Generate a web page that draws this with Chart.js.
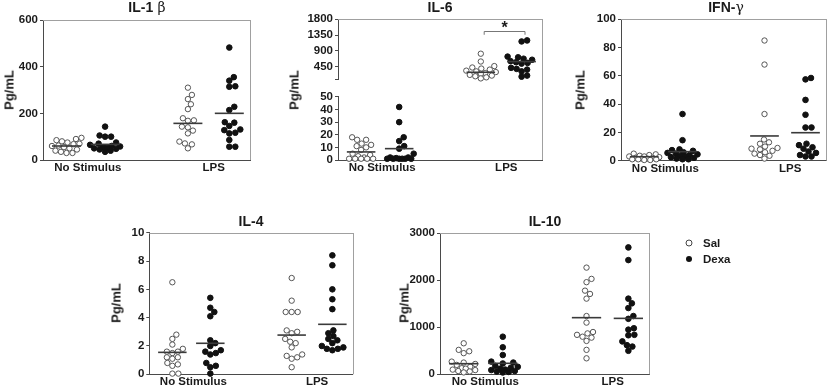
<!DOCTYPE html>
<html><head><meta charset="utf-8">
<script src="https://cdn.jsdelivr.net/npm/chart.js@4"></script>
<style>
html,body{margin:0;padding:0;background:#fff;}
body{width:827px;height:387px;position:relative;overflow:hidden;font-family:"Liberation Sans",Arial,sans-serif;color:#1a1a1a;}
#charts canvas{position:absolute;}
.t{position:absolute;transform:translate(-50%,-50%);font-weight:bold;font-size:14px;white-space:nowrap;}
.t .g{font-weight:normal;font-family:"DejaVu Serif","Liberation Serif",serif;font-size:14px;}
.yl{position:absolute;transform:translate(-50%,-50%) rotate(-90deg);font-weight:bold;font-size:13px;white-space:nowrap;}
.lt{position:absolute;transform:translateY(-50%);font-weight:bold;font-size:11.5px;white-space:nowrap;}
.mk{position:absolute;width:5px;height:5px;border-radius:50%;transform:translate(-50%,-50%);}
</style></head><body>
<div id="charts"></div>
<div class="t" style="left:147px;top:7px">IL-1<span class="g"> β</span></div>
<div class="t" style="left:440px;top:7px">IL-6</div>
<div class="t" style="left:726px;top:7px">IFN-<span class="g">γ</span></div>
<div class="t" style="left:251px;top:221px">IL-4</div>
<div class="t" style="left:545px;top:221px">IL-10</div>
<div class="yl" style="left:9px;top:90px">Pg/mL</div>
<div class="yl" style="left:294px;top:90px">Pg/mL</div>
<div class="yl" style="left:580px;top:90px">Pg/mL</div>
<div class="yl" style="left:116px;top:303px">Pg/mL</div>
<div class="yl" style="left:404px;top:303px">Pg/mL</div>
<div class="mk" style="left:689px;top:243px;border:1px solid #444;background:#fff"></div>
<div class="lt" id="lg0" style="left:703px;top:243px"></div>
<div class="mk" style="left:689px;top:259px;background:#111;width:6px;height:6px"></div>
<div class="lt" id="lg1" style="left:703px;top:259px"></div>
<script>
// ---------- data ----------
const categories = ['No Stimulus', 'LPS'];
const seriesNames = ['Sal', 'Dexa'];

// IL-1β
const il1bTicks = [0, 200, 400, 600];
const il1bNsSal = [95, 90, 85, 80, 75, 70, 68, 62, 60, 55, 50, 45, 40, 35, 30, 30];
const il1bNsDexa = [143, 105, 100, 100, 75, 70, 65, 60, 58, 55, 52, 50, 48, 45, 40, 35];
const il1bLpsSal = [310, 279, 261, 239, 218, 179, 170, 168, 143, 140, 126, 114, 79, 71, 67, 50];
const il1bLpsDexa = [482, 355, 340, 316, 314, 228, 214, 162, 160, 146, 131, 128, 117, 114, 86, 57, 57];
const il1bMeans = [60, 67, 157, 200];

// IL-6 (broken axis)
const il6LowTicks = [0, 10, 20, 30, 40, 50];
const il6HighTicks = [100, 450, 900, 1350, 1800];
const il6NsSal = [18, 16, 16, 13, 12, 11, 10, 8, 5, 4, 3, 2, 1, 1, 1, 1, 1];
const il6NsDexa = [42, 30, 18, 15, 11, 9, 5, 2, 2, 1.5, 1, 1, 1, 1, 1, 1];
const il6LpsSal = [822, 600, 470, 430, 400, 370, 340, 320, 300, 270, 250, 220, 200, 180, 150, 120];
const il6LpsDexa = [1200, 1170, 740, 720, 680, 650, 610, 580, 560, 540, 420, 390, 370, 320, 200, 170];
const il6Means = [6.4, 9, 294, 598];

// IFN-γ
const ifngTicks = [0, 20, 40, 60, 80, 100];
const ifngNsSal = [5, 4.5, 4, 3.5, 3, 3, 2.5, 2, 2, 1.5, 1.5, 1, 1, 1, 0.5, 0.5];
const ifngNsDexa = [33, 14.5, 8, 7.5, 7, 6, 5.5, 5, 4.5, 4, 3.5, 3, 2.5, 2, 1.5, 1, 1];
const ifngLpsSal = [85, 68, 33, 15, 13, 12, 10, 9, 8.5, 8, 7, 6, 5, 4, 3.5, 1.5];
const ifngLpsDexa = [58.5, 57.5, 43, 32.5, 23.5, 23.5, 12, 11, 9.5, 8.5, 6.5, 5.5, 4, 3, 3];
const ifngMeans = [2.8, 6.4, 17.5, 19.8];

// IL-4
const il4Ticks = [0, 2, 4, 6, 8, 10];
const il4NsSal = [6.5, 2.8, 2.5, 2.1, 1.8, 1.6, 1.6, 1.5, 1.2, 1.2, 1.1, 0.8, 0.7, 0.6, 0.05, 0.05];
const il4NsDexa = [5.4, 4.7, 4.4, 4.1, 2.4, 2.2, 2.0, 1.7, 1.6, 1.5, 1.4, 0.8, 0.6, 0.5, 0.05];
const il4LpsSal = [6.8, 5.2, 4.4, 4.4, 4.4, 3.1, 3.0, 2.9, 2.5, 2.3, 2.2, 1.9, 1.4, 1.3, 1.2, 1.1, 0.5];
const il4LpsDexa = [8.4, 7.7, 6.0, 5.3, 4.6, 3.1, 2.9, 2.7, 2.5, 2.4, 2.2, 2.0, 1.9, 1.8, 1.8, 1.7];
const il4Means = [1.55, 2.19, 2.77, 3.53];

// IL-10
const il10Ticks = [0, 1000, 2000, 3000];
const il10NsSal = [660, 520, 490, 450, 270, 250, 220, 200, 160, 130, 120, 100, 90, 70, 60, 40];
const il10NsDexa = [800, 575, 410, 270, 250, 230, 180, 160, 140, 120, 100, 90, 70, 60, 50, 40];
const il10LpsSal = [2270, 2030, 1960, 1780, 1710, 1610, 1240, 1100, 900, 870, 840, 800, 780, 710, 520, 340];
const il10LpsDexa = [2700, 2430, 1610, 1510, 1410, 1240, 1180, 980, 950, 840, 830, 700, 620, 590, 500];
const il10Means = [226, 234, 1205, 1190];

// ---------- layout helpers ----------
document.getElementById('lg0').textContent = seriesNames[0];
document.getElementById('lg1').textContent = seriesNames[1];

const FONT = '"Liberation Sans", Arial, sans-serif';
const TXT = '#1a1a1a';
const AXIS = '#4a4a4a';
const X_MIN = 0, X_MAX = 6;
const groupX = [0.68, 1.8, 4.2, 5.4];   // NS-Sal, NS-Dexa, LPS-Sal, LPS-Dexa
const labelX = [1.3, 4.95];
const HALF = 0.42;

// beeswarm spreading (pixel space), limited width; overlaps allowed when crowded
function swarm(vals, pyu, pxu, d, maxW) {
  const idx = vals.map((_, i) => i).sort((a, b) => vals[a] - vals[b]);
  const placed = [], out = new Array(vals.length).fill(0);
  for (const i of idx) {
    const y = vals[i] * pyu;
    let best = 0, bestScore = -1, found = false;
    for (let k = 0; ; k++) {
      const s = Math.ceil(k / 2) * 0.5 * (k % 2 === 1 ? 1 : -1);
      if (Math.abs(s) > maxW) break;
      let minD = Infinity;
      for (const p of placed) {
        const dx = p.x - s, dy = p.y - y;
        minD = Math.min(minD, Math.sqrt(dx * dx + dy * dy));
      }
      if (minD >= d) { best = s; found = true; break; }
      if (minD > bestScore + 0.3) { bestScore = minD; best = s; }
    }
    placed.push({ x: best, y });
    out[i] = best / pxu;
  }
  return out;
}

const boxPlugin = {
  id: 'box',
  afterDraw(chart, args, opts) {
    const a = chart.chartArea, ctx = chart.ctx;
    ctx.save();
    ctx.strokeStyle = '#a0a0a0';
    ctx.lineWidth = 1;
    ctx.beginPath();
    const x = Math.round(a.right) + 0.5;
    if (opts.top) {
      const y = Math.round(a.top) + 0.5;
      ctx.moveTo(a.left, y); ctx.lineTo(x, y);
    }
    ctx.moveTo(x, opts.fromTop ? 0 : Math.round(a.top));
    ctx.lineTo(x, opts.toBottom ? chart.height : a.bottom);
    ctx.stroke();
    ctx.restore();
  }
};

function panel(cfg) {
  const c = document.createElement('canvas');
  c.width = cfg.w; c.height = cfg.h;
  c.style.left = cfg.left + 'px'; c.style.top = cfg.top + 'px';
  document.getElementById('charts').appendChild(c);
  const areaH = cfg.h - cfg.padTop - (cfg.xH != null ? cfg.xH : cfg.padBottom);
  const areaW = cfg.w - cfg.yW - cfg.padRight;
  const pyu = areaH / (cfg.max - cfg.min);
  const pxu = areaW / (X_MAX - X_MIN);
  const datasets = [];
  cfg.groups.forEach(g => {
    const cx = groupX[g.i];
    datasets.push({
      data: [{ x: cx - HALF, y: g.mean }, { x: cx + HALF, y: g.mean }],
      showLine: true, borderColor: '#3a3a3a', borderWidth: 1.6,
      pointRadius: 0, clip: false, order: 0
    });
  });
  cfg.groups.forEach(g => {
    const cx = groupX[g.i];
    const off = swarm(g.vals, pyu, pxu, 5.6, 15);
    const dexa = g.i % 2 === 1;
    datasets.push({
      data: g.vals.map((v, k) => ({ x: cx + off[k], y: v })),
      showLine: false, pointRadius: dexa ? 2.8 : 2.7, pointHoverRadius: 2.8,
      pointBorderWidth: 1,
      pointBackgroundColor: dexa ? '#111' : '#fff',
      pointBorderColor: dexa ? '#111' : '#555',
      clip: false, order: 1
    });
  });
  const tickFont = { family: FONT, size: 11.5, weight: 'bold' };
  const scales = {
    x: {
      type: 'linear', min: X_MIN, max: X_MAX,
      display: cfg.xH != null,
      afterBuildTicks: s => { s.ticks = labelX.map(v => ({ value: v })); },
      afterFit: s => { s.height = cfg.xH || 0; },
      ticks: { autoSkip: false, maxRotation: 0, padding: 1, color: TXT, font: tickFont,
               callback: (v, i) => categories[i] },
      grid: { drawOnChartArea: false, drawTicks: false },
      border: { display: true, color: AXIS, width: 1 }
    },
    y: {
      type: 'linear', min: cfg.min, max: cfg.max,
      afterBuildTicks: s => { s.ticks = cfg.ticks.map(v => ({ value: v })); },
      afterFit: s => { s.width = cfg.yW; },
      ticks: { autoSkip: false, padding: 2, color: TXT, font: tickFont,
               callback: v => (cfg.hideLabel && cfg.hideLabel.includes(v)) ? '' : String(v) },
      grid: { drawOnChartArea: false, drawTicks: true, tickLength: 3, color: AXIS, lineWidth: 1 },
      border: { display: true, color: AXIS, width: 1 }
    }
  };
  return new Chart(c, {
    type: 'scatter',
    data: { datasets },
    options: {
      responsive: false, animation: false, devicePixelRatio: 1,
      layout: { autoPadding: false, padding: { top: cfg.padTop, right: cfg.padRight, bottom: cfg.xH != null ? 0 : cfg.padBottom, left: 0 } },
      plugins: { legend: { display: false }, tooltip: { enabled: false }, box: cfg.box },
      scales
    },
    plugins: [boxPlugin].concat(cfg.extra || [])
  });
}

// IL-1β
panel({ left: 0, top: 0, w: 260, h: 182, yW: 43, padTop: 20, padRight: 10, xH: 22,
  min: 0, max: 600, ticks: il1bTicks, box: { top: true },
  groups: [{ i: 0, vals: il1bNsSal, mean: il1bMeans[0] }, { i: 1, vals: il1bNsDexa, mean: il1bMeans[1] },
           { i: 2, vals: il1bLpsSal, mean: il1bMeans[2] }, { i: 3, vals: il1bLpsDexa, mean: il1bMeans[3] }] });

// IL-6 upper segment
const starPlugin = {
  id: 'star',
  afterDatasetsDraw(chart) {
    const xs = chart.scales.x, ys = chart.scales.y, ctx = chart.ctx;
    const x1 = xs.getPixelForValue(groupX[2] + 0.1), x2 = xs.getPixelForValue(groupX[3] + 0.1);
    const yb = Math.round(ys.getPixelForValue(1470)) + 0.5, yd = ys.getPixelForValue(1360);
    ctx.save();
    ctx.strokeStyle = '#777'; ctx.lineWidth = 1;
    ctx.beginPath();
    ctx.moveTo(x1, yd); ctx.lineTo(x1, yb); ctx.lineTo(x2, yb); ctx.lineTo(x2, yd);
    ctx.stroke();
    ctx.fillStyle = TXT; ctx.font = 'bold 16px ' + FONT;
    ctx.textAlign = 'center'; ctx.textBaseline = 'alphabetic';
    ctx.fillText('*', (x1 + x2) / 2, yb + 1);
    ctx.restore();
  }
};
panel({ left: 298, top: 0, w: 256, h: 88, yW: 40, padTop: 19.3, padRight: 12, xH: null, padBottom: 4.5,
  min: 100, max: 1800, ticks: il6HighTicks, hideLabel: [100], box: { top: true, toBottom: true },
  extra: [starPlugin],
  groups: [{ i: 2, vals: il6LpsSal, mean: il6Means[2] }, { i: 3, vals: il6LpsDexa, mean: il6Means[3] }] });
// IL-6 lower segment
panel({ left: 298, top: 88, w: 256, h: 94, yW: 40, padTop: 7, padRight: 12, xH: 22,
  min: 0, max: 50, ticks: il6LowTicks, box: { top: false, fromTop: true },
  groups: [{ i: 0, vals: il6NsSal, mean: il6Means[0] }, { i: 1, vals: il6NsDexa, mean: il6Means[1] }] });

// IFN-γ
panel({ left: 582, top: 0, w: 245, h: 182, yW: 39, padTop: 19.3, padRight: 1, xH: 21.3,
  min: 0, max: 100, ticks: ifngTicks, box: { top: true },
  groups: [{ i: 0, vals: ifngNsSal, mean: ifngMeans[0] }, { i: 1, vals: ifngNsDexa, mean: ifngMeans[1] },
           { i: 2, vals: ifngLpsSal, mean: ifngMeans[2] }, { i: 3, vals: ifngLpsDexa, mean: ifngMeans[3] }] });

// IL-4
panel({ left: 122, top: 215, w: 245, h: 172, yW: 27.3, padTop: 17.7, padRight: 14.3, xH: 12.7,
  min: 0, max: 10, ticks: il4Ticks, box: { top: true },
  groups: [{ i: 0, vals: il4NsSal, mean: il4Means[0] }, { i: 1, vals: il4NsDexa, mean: il4Means[1] },
           { i: 2, vals: il4LpsSal, mean: il4Means[2] }, { i: 3, vals: il4LpsDexa, mean: il4Means[3] }] });

// IL-10
panel({ left: 400, top: 215, w: 255, h: 172, yW: 40, padTop: 18.3, padRight: 5.7, xH: 12.7,
  min: 0, max: 3000, ticks: il10Ticks, box: { top: true },
  groups: [{ i: 0, vals: il10NsSal, mean: il10Means[0] }, { i: 1, vals: il10NsDexa, mean: il10Means[1] },
           { i: 2, vals: il10LpsSal, mean: il10Means[2] }, { i: 3, vals: il10LpsDexa, mean: il10Means[3] }] });
</script>
</body></html>
